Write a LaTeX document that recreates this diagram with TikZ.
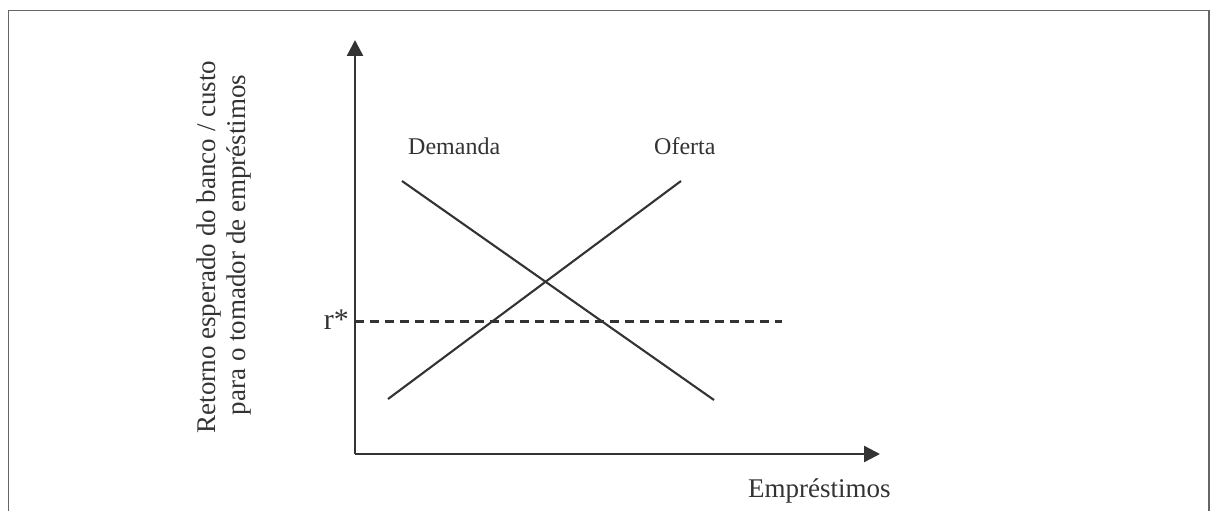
\documentclass[tikz,border=0pt]{standalone}
\usepackage{fontspec}
\setmainfont{Liberation Serif}
\usetikzlibrary{arrows.meta}
\definecolor{ink}{HTML}{333333}
\definecolor{framec}{HTML}{666666}
\begin{document}
\begin{tikzpicture}[x=1pt,y=-1pt,
  axis/.style={draw=ink,line width=2.4pt,-{Triangle[length=16pt,width=16pt]}},
  curve/.style={draw=ink,line width=2.1pt},
  dash line/.style={draw=ink,line width=2.1pt,dash pattern=on 9pt off 6pt},
  lbl/.style={text=ink,inner sep=0pt,font=\fontsize{27}{30}\selectfont},
  small lbl/.style={text=ink,inner sep=0pt,font=\fontsize{24}{28}\selectfont}]
\useasboundingbox (0,0) rectangle (1210,511);
% frame
\draw[framec,line width=1.6pt] (8.5,511) -- (8.5,10.5) -- (1209,10.5) -- (1209,511);
% axes
\coordinate (O) at (355,454);
\coordinate (ytop) at (355,40);
\coordinate (xend) at (880,454);
\draw[axis] (O) -- (ytop);
\draw[axis] (O) -- (xend);
% curves
\coordinate (d1) at (402,181);
\coordinate (d2) at (714,400);
\coordinate (s1) at (388,399);
\coordinate (s2) at (681,181);
\draw[curve] (d1) -- (d2);
\draw[curve] (s1) -- (s2);
% r* line
\coordinate (r1) at (355,321.5);
\coordinate (r2) at (782,321.5);
\draw[dash line] (r1) -- (r2);
% labels
\node[lbl,anchor=base east,font=\fontsize{30}{34}\selectfont] (rstar) at (349,329) {r*};
\node[small lbl,anchor=base west] (dem) at (408,154) {Demanda};
\node[small lbl,anchor=base west] (ofe) at (654,154) {Oferta};
\node[lbl,anchor=base west] (xlab) at (748,497) {Empréstimos};
\node[lbl,anchor=base,rotate=90] (ylab1) at (215,247) {Retorno esperado do banco / custo};
\node[lbl,anchor=base,rotate=90] (ylab2) at (245,245) {para o tomador de empréstimos};
\end{tikzpicture}
\end{document}
